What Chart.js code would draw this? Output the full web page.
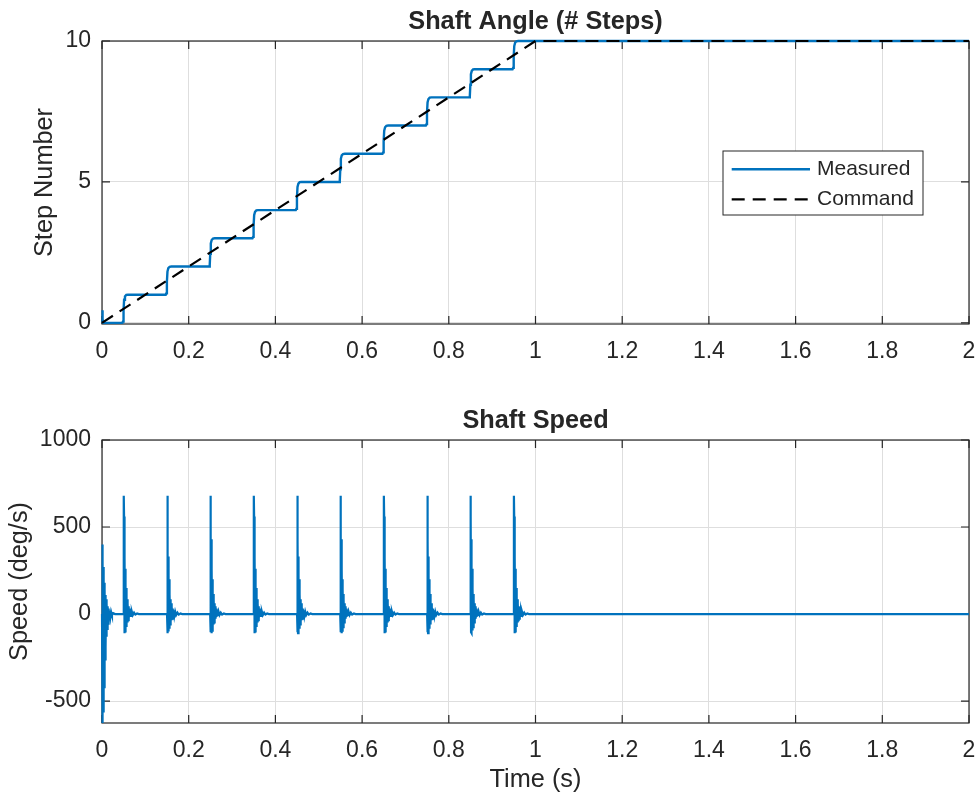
<!DOCTYPE html>
<html lang="en">
<head>
<meta charset="UTF-8">
<title>Stepper Motor Response</title>
<script src="https://cdn.jsdelivr.net/npm/chart.js"></script>
<style>
  html, body { margin: 0; padding: 0; background: #fff; }
  body { width: 980px; height: 804px; position: relative; overflow: hidden; }
  .panel { position: absolute; left: 0; width: 980px; }
  #angle-panel { top: 0; height: 399px; }
  #speed-panel { top: 399px; height: 405px; }
</style>
</head>
<body>
<div class="panel" id="angle-panel"><canvas id="angle"></canvas></div>
<div class="panel" id="speed-panel"><canvas id="speed"></canvas></div>
<script>
// ---- data ----
const stepTimes = [0.05, 0.15, 0.25, 0.35, 0.45, 0.55, 0.65, 0.75, 0.85, 0.95];

// command ramp (steps)
const commandTime = [0, 1, 2];
const commandSteps = [0, 10, 10];

// measured angle: small kick at t = 0, then one rounded step per command step
const angleStartTime = [0, 0.0006, 0.002, 0.004];
const angleStartValue = [0, 0.45, 0.12, 0];
const stepShapeDt = [-0.003, -0.0015, -0.0003, 0.001, 0.003, 0.006, 0.01];
const stepShapeRise = [0, 0.05, 0.45, 0.82, 0.94, 0.99, 1];

// shaft speed (deg/s): start-up transient
const startSpikeTime = [0, 0.0003, 0.0008, 0.0013, 0.0018, 0.0023, 0.0028, 0.0033, 0.0038, 0.0043,
  0.0048, 0.0054, 0.006, 0.0066, 0.0072, 0.0079, 0.0086, 0.0094, 0.0102, 0.011,
  0.012, 0.013, 0.014, 0.0152, 0.0165, 0.018, 0.0195, 0.021, 0.023, 0.026, 0.03];
const startSpikeSpeed = [0, 400, -626, 360, -600, 320, -560, 270, -500, 220,
  -420, 180, -340, 140, -260, 110, -190, 85, -130, 60,
  -85, 45, -55, 32, -30, 20, -15, 12, -7, 5, 0];

// shaft speed (deg/s): ringing spike at every step
const spikeDt = [-0.0005, 0, 0.0004, 0.0009, 0.0013, 0.0018, 0.0022, 0.0027, 0.0031, 0.0036,
  0.004, 0.0046, 0.005, 0.0056, 0.006, 0.0067, 0.0072, 0.008, 0.0086, 0.0095,
  0.0102, 0.0112, 0.012, 0.0132, 0.0142, 0.0156, 0.017, 0.0188, 0.021, 0.024,
  0.027, 0.031, 0.035];
const spikeSpeed = [0, 0, 680, 560, -105, 430, -110, 330, -100, 260,
  -95, 200, -85, 150, -75, 115, -60, 85, -48, 62,
  -35, 45, -26, 32, -17, 22, -10, 14, -6, 8,
  -3, 3, 0];

const timeTicks = [0, 0.2, 0.4, 0.6, 0.8, 1, 1.2, 1.4, 1.6, 1.8, 2];
const angleTicks = [0, 5, 10];
const speedTicks = [-500, 0, 500, 1000];

// ---- look ----
const FONT = '"Liberation Sans", Arial, Helvetica, sans-serif';
const INK = '#262626';
const GRID = '#dedede';
const BLUE = '#0072bd';
const TICK_LEN = 8;

Chart.defaults.font.family = FONT;
Chart.defaults.color = INK;

function toPoints(xs, ys) {
  return xs.map((x, i) => ({ x, y: ys[i] }));
}

const measuredAngle = toPoints(angleStartTime, angleStartValue);
stepTimes.forEach((ts, k) => {
  stepShapeDt.forEach((dt, j) => measuredAngle.push({ x: ts + dt, y: k + stepShapeRise[j] }));
});
measuredAngle.push({ x: 2, y: 10 });

const shaftSpeed = toPoints(startSpikeTime, startSpikeSpeed);
stepTimes.forEach(ts => {
  spikeDt.forEach((dt, j) => shaftSpeed.push({ x: ts + dt, y: spikeSpeed[j] }));
});
shaftSpeed.push({ x: 2, y: 0 });

// matlab-like box with inward ticks, drawn under the data
const axesBox = {
  id: 'axesBox',
  beforeDatasetsDraw(chart) {
    const { ctx, chartArea: a, scales } = chart;
    ctx.save();
    ctx.strokeStyle = INK;
    ctx.lineWidth = 1.2;
    ctx.strokeRect(a.left, a.top, a.right - a.left, a.bottom - a.top);
    ctx.beginPath();
    scales.x.ticks.forEach(t => {
      const px = scales.x.getPixelForValue(t.value);
      ctx.moveTo(px, a.bottom); ctx.lineTo(px, a.bottom - TICK_LEN);
      ctx.moveTo(px, a.top); ctx.lineTo(px, a.top + TICK_LEN);
    });
    scales.y.ticks.forEach(t => {
      const py = scales.y.getPixelForValue(t.value);
      ctx.moveTo(a.left, py); ctx.lineTo(a.left + TICK_LEN, py);
      ctx.moveTo(a.right, py); ctx.lineTo(a.right - TICK_LEN, py);
    });
    ctx.stroke();
    ctx.restore();
  }
};

// legend boxed inside the plot area
const insideLegend = {
  id: 'insideLegend',
  afterDatasetsDraw(chart, args, opts) {
    if (!opts.show) return;
    const { ctx, chartArea: a } = chart;
    const left = a.right - opts.right - opts.width;
    const top = a.top + opts.top;
    ctx.save();
    ctx.fillStyle = '#fff';
    ctx.fillRect(left, top, opts.width, opts.height);
    ctx.strokeStyle = INK;
    ctx.lineWidth = 1;
    ctx.strokeRect(left, top, opts.width, opts.height);
    ctx.font = opts.fontSize + 'px ' + FONT;
    ctx.textBaseline = 'middle';
    chart.data.datasets.forEach((ds, i) => {
      const y = top + opts.rows[i];
      ctx.beginPath();
      ctx.strokeStyle = ds.borderColor;
      ctx.lineWidth = ds.borderWidth;
      ctx.setLineDash(ds.borderDash || []);
      ctx.moveTo(left + opts.lineFrom, y);
      ctx.lineTo(left + opts.lineTo, y);
      ctx.stroke();
      ctx.setLineDash([]);
      ctx.fillStyle = INK;
      ctx.fillText(ds.label, left + opts.textAt, y);
    });
    ctx.restore();
  }
};

function timeAxis(height, withTitle) {
  return {
    type: 'linear', min: 0, max: 2,
    afterBuildTicks: s => { s.ticks = timeTicks.map(v => ({ value: v })); },
    ticks: {
      padding: 14, color: INK, font: { size: 23 },
      callback: v => String(Number(v.toFixed(1)))
    },
    grid: { color: GRID, drawTicks: false },
    border: { display: false },
    title: {
      display: withTitle, text: 'Time (s)', color: INK,
      font: { size: 25.3 }, padding: { top: 0, bottom: 8.8 }
    },
    afterFit: s => {
      s.height = height;
      // labels may hang past the plot edges, like in the original
      s.paddingLeft = 0;
      s.paddingRight = 0;
    }
  };
}

function valueAxis(min, max, tickValues, label, titlePad) {
  return {
    type: 'linear', min, max,
    afterBuildTicks: s => { s.ticks = tickValues.map(v => ({ value: v })); },
    ticks: { padding: 11, color: INK, font: { size: 23 }, callback: v => String(v) },
    grid: { color: GRID, drawTicks: false },
    border: { display: false },
    title: {
      display: true, text: label, color: INK,
      font: { size: 25.3 }, padding: { top: titlePad, bottom: 0 }
    },
    afterFit: s => {
      s.width = 102;
      s.paddingTop = 0;
      s.paddingBottom = 0;
    }
  };
}

function baseOptions(title, xAxis, yAxis, legendOpts) {
  return {
    responsive: true,
    maintainAspectRatio: false,
    animation: false,
    events: [],
    layout: { padding: { left: 0, right: 11, top: 0, bottom: 0 } },
    elements: { point: { radius: 0 }, line: { tension: 0 } },
    scales: { x: xAxis, y: yAxis },
    plugins: {
      legend: { display: false },
      tooltip: { enabled: false },
      title: {
        display: true, text: title, color: INK, fullSize: false,
        font: { size: 25.3, weight: 'bold' },
        padding: { top: 7, bottom: 3.64 }
      },
      insideLegend: legendOpts
    }
  };
}

new Chart(document.getElementById('angle'), {
  type: 'line',
  data: {
    datasets: [
      {
        label: 'Measured', data: measuredAngle, borderColor: BLUE,
        borderWidth: 2.4, order: 1, clip: 4
      },
      {
        label: 'Command', data: toPoints(commandTime, commandSteps), borderColor: '#000',
        borderWidth: 2.2, borderDash: [13, 8], order: 0, clip: 4
      }
    ]
  },
  options: baseOptions('Shaft Angle (# Steps)', timeAxis(75, false),
    valueAxis(-0.04, 10, angleTicks, 'Step Number', 30),
    { show: true, right: 46, top: 110, width: 200, height: 64,
      rows: [18.3, 48.3], lineFrom: 8.7, lineTo: 87, textAt: 94, fontSize: 21 }),
  plugins: [axesBox, insideLegend]
});

new Chart(document.getElementById('speed'), {
  type: 'line',
  data: {
    datasets: [
      { label: 'Speed', data: shaftSpeed, borderColor: BLUE, borderWidth: 2.2, clip: 4 }
    ]
  },
  options: baseOptions('Shaft Speed', timeAxis(81, true),
    valueAxis(-626, 1000, speedTicks, 'Speed (deg/s)', 5),
    { show: false }),
  plugins: [axesBox, insideLegend]
});
</script>
</body>
</html>
